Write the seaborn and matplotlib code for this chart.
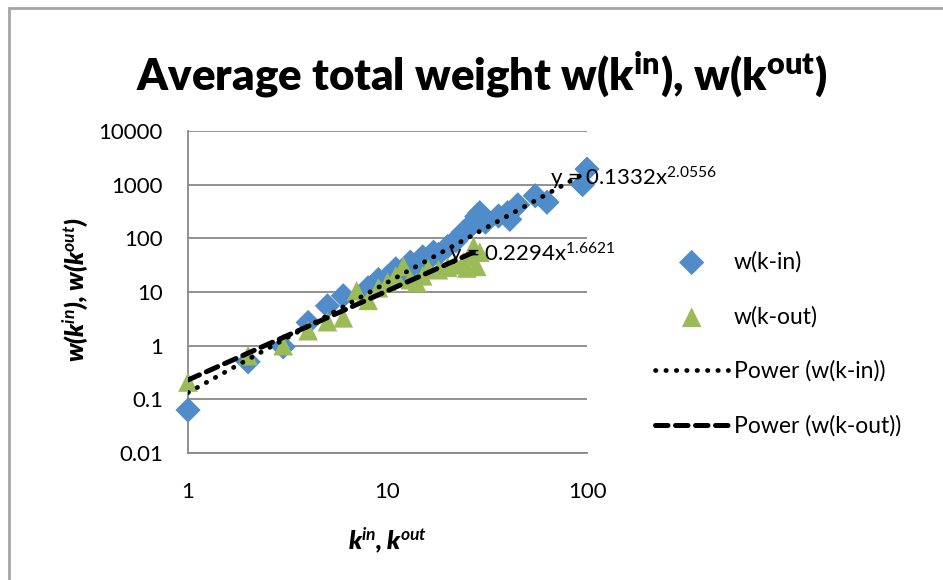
import numpy as np
import pandas as pd
import matplotlib
matplotlib.use('Agg')
import matplotlib.pyplot as plt
import seaborn as sns
from matplotlib.patches import Rectangle

# values
k_in = [1, 2, 3, 4, 5, 6, 8, 9, 10, 11, 12, 13, 14, 15, 16, 17, 18, 20, 22, 23,
        24, 26, 27, 28, 29, 31, 36, 40, 41, 45, 55, 63, 95, 100]
w_in = [0.063, 0.5, 0.95, 2.7, 5.5, 8.5, 12, 17, 19, 27, 25, 36, 30, 45, 40, 55, 50, 70, 90, 110,
        130, 165, 200, 255, 300, 200, 260, 300, 225, 420, 620, 470, 1000, 1950]

k_out = [1, 2, 3, 4, 5, 6, 7, 8, 9, 10, 11, 12, 13, 14, 15, 16, 18, 20, 22, 24,
         25, 26, 27, 28, 29]
w_out = [0.21, 0.65, 1.0, 1.9, 2.8, 3.3, 10.5, 7.0, 12, 15, 20, 30, 17, 15, 20, 27, 26, 29, 32, 36,
         28, 45, 70, 30, 55]

# power trendlines y = a * x^b (coefficients printed on the chart)
fit_in = (0.1332, 2.0556)
fit_out = (0.2294, 1.6621)

x_ticks = [1, 10, 100]
x_tick_labels = ['1', '10', '100']
y_ticks = [0.01, 0.1, 1, 10, 100, 1000, 10000]
y_tick_labels = ['0.01', '0.1', '1', '10', '100', '1000', '10000']

BLUE = '#4F8CC9'
GREEN = '#9BBB59'
GRID = '#888888'


def main():
    sns.set_theme(style='white')
    plt.rcParams['font.family'] = ['Lato', 'DejaVu Sans']
    plt.rcParams['text.color'] = 'black'
    plt.rcParams['mathtext.fontset'] = 'custom'
    plt.rcParams['mathtext.rm'] = 'Lato'
    plt.rcParams['mathtext.it'] = 'Lato:italic'
    plt.rcParams['mathtext.bf'] = 'Lato:heavy'
    plt.rcParams['mathtext.bfit'] = 'Lato:italic:bold'

    df_in = pd.DataFrame({'k': k_in, 'w': w_in})
    df_out = pd.DataFrame({'k': k_out, 'w': w_out})

    fig = plt.figure(figsize=(9.43, 5.8), dpi=100)
    ax = fig.add_axes([0.1994, 0.2190, 0.4231, 0.5552])
    ax.set_xscale('log')
    ax.set_yscale('log')

    # scatter series
    sns.scatterplot(data=df_in, x='k', y='w', marker='D', s=165, color=BLUE,
                    edgecolor='none', ax=ax, label='w(k-in)', clip_on=False, zorder=3)
    sns.scatterplot(data=df_out, x='k', y='w', marker='^', s=200, color=GREEN,
                    edgecolor='none', ax=ax, label='w(k-out)', clip_on=False, zorder=4)

    # trendlines
    kk_in = np.geomspace(min(k_in), max(k_in), 200)
    kk_out = np.geomspace(min(k_out), max(k_out), 200)
    sns.lineplot(x=kk_in, y=fit_in[0] * kk_in ** fit_in[1], color='black', lw=3.4,
                 linestyle=(0, (0.1, 2.1)), dash_capstyle='round', ax=ax,
                 label='Power (w(k-in))', zorder=5)
    sns.lineplot(x=kk_out, y=fit_out[0] * kk_out ** fit_out[1], color='black', lw=3.6,
                 linestyle=(0, (2.5, 1.5)), dash_capstyle='round', ax=ax,
                 label='Power (w(k-out))', zorder=6)

    ax.set_xlim(1, 100)
    ax.set_ylim(0.01, 10000)
    ax.set_xticks(x_ticks)
    ax.set_xticklabels(x_tick_labels)
    ax.set_yticks(y_ticks)
    ax.set_yticklabels(y_tick_labels)
    ax.minorticks_off()
    ax.tick_params(axis='both', length=0, labelsize=16, colors='black')
    ax.tick_params(axis='y', pad=18)
    ax.tick_params(axis='x', pad=21)

    ax.grid(axis='y', color=GRID, lw=1.3)
    ax.grid(axis='x', visible=False)
    for side in ['top', 'right']:
        ax.spines[side].set_visible(False)
    for side in ['left', 'bottom']:
        ax.spines[side].set_color(GRID)
        ax.spines[side].set_linewidth(1.3)

    ax.set_xlabel('')
    ax.set_ylabel('')

    # titles and axis labels
    fig.text(482 / 943, 1 - 75 / 580,
             r'Average total weight w(k$^{\mathbf{in}}$), w(k$^{\mathbf{out}}$)',
             ha='center', va='center', fontsize=31.5, fontweight='heavy')
    fig.text(388 / 943, 1 - 540 / 580,
             r'k$^{\mathbfit{in}}$, k$^{\mathbfit{out}}$',
             ha='center', va='center', fontsize=18, fontweight='heavy', style='italic')
    fig.text(75 / 943, 1 - 290 / 580,
             r'w(k$^{\mathbfit{in}}$), w(k$^{\mathbfit{out}}$)',
             ha='center', va='center', rotation=90, fontsize=18,
             fontweight='heavy', style='italic')

    # trendline equations
    fig.text(550 / 943, 1 - 186 / 580, r'y = 0.1332x$^{2.0556}$',
             ha='left', va='baseline', fontsize=16, zorder=10)
    fig.text(449 / 943, 1 - 261 / 580, r'y = 0.2294x$^{1.6621}$',
             ha='left', va='baseline', fontsize=16, zorder=10)

    # legend
    handles, labels = ax.get_legend_handles_labels()
    if ax.get_legend():
        ax.get_legend().remove()
    fig.legend(handles, labels, loc='upper left',
               bbox_to_anchor=(655 / 943, 1 - 251 / 580), frameon=False,
               fontsize=16.5, handlelength=3.2, handletextpad=0.25,
               labelspacing=1.45, borderpad=0, borderaxespad=0)

    # chart border
    fig.add_artist(Rectangle((9 / 943, -0.1), 1.0, 1.1 - 8 / 580, fill=False,
                             edgecolor='#A6A6A6', lw=2, transform=fig.transFigure))

    fig.savefig('out.png', dpi=100)
    plt.close(fig)


if __name__ == '__main__':
    main()
